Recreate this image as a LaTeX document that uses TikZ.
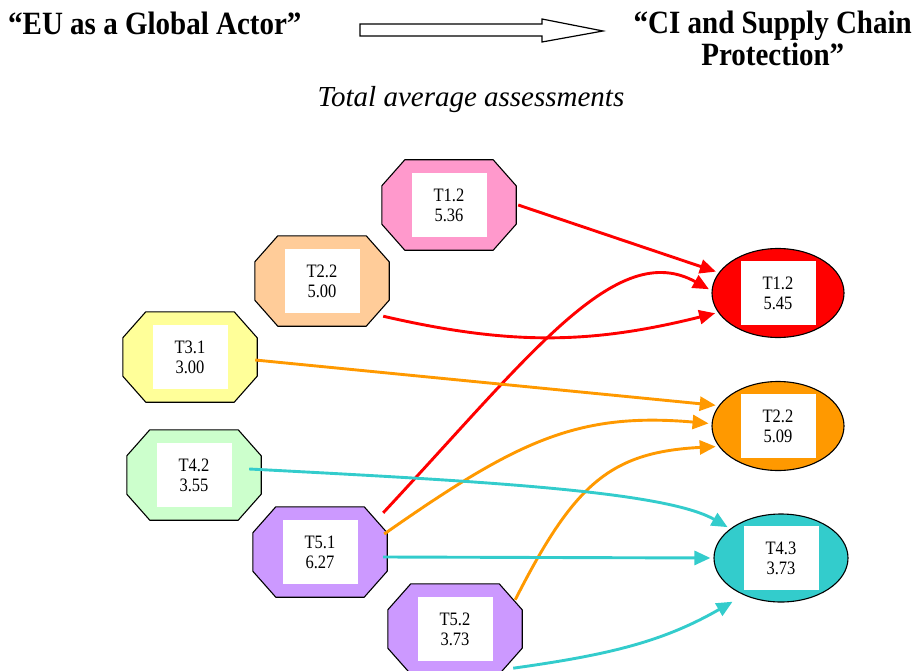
\documentclass[tikz,border=0pt]{standalone}
\usepackage{fontspec}
\setmainfont{Liberation Serif}
\usepackage{tikz}
\usetikzlibrary{shapes.geometric,arrows.meta}

\definecolor{octpink}{HTML}{FF99CC}
\definecolor{octpeach}{HTML}{FFCC99}
\definecolor{octyellow}{HTML}{FFFF99}
\definecolor{octgreen}{HTML}{CCFFCC}
\definecolor{octviolet}{HTML}{CC99FF}
\definecolor{linkred}{HTML}{FF0000}
\definecolor{linkorange}{HTML}{FF9900}
\definecolor{linkteal}{HTML}{33CCCC}

\begin{document}
\begin{tikzpicture}[x=1pt, y=-1pt,
    oct/.style={rectangle, minimum width=134pt, minimum height=90pt, inner sep=0pt},
    oval/.style={ellipse, draw, line width=1.1pt, minimum width=132pt, minimum height=89pt, inner sep=0pt},
    lbl/.style={fill=white, minimum width=75pt, minimum height=55.6pt, inner sep=0pt,
        align=center, font=\fontsize{16.5}{17.4}\selectfont, yscale=1.15, transform shape},
    head/.style={font=\bfseries\fontsize{29}{28.6}\selectfont, inner sep=0pt, yscale=1.12, transform shape},
    link/.style={line width=2.9pt, -{Triangle[length=16pt,width=14pt]}, shorten >=3pt}]
    \useasboundingbox (0,0) rectangle (917,671);

    % headings
    \node[head, anchor=base west] (from) at (8,35) {“EU as a Global Actor”};
    \node[head, anchor=base east, align=center] (to) at (912,66) {“CI and Supply Chain\\Protection”};
    \node[font=\itshape\fontsize{29}{32}\selectfont, inner sep=0pt, anchor=base] (sub) at (471,107) {Total average assessments};
    \draw[line width=1.2pt] (360,24) -- (542,24) -- (542,19) -- (603,31) -- (542,42) -- (542,36) -- (360,36) -- cycle;

    % source topics
    \node[oct] (g12) at (449,205) {};
    \node[oct] (g22) at (322,281) {};
    \node[oct] (g31) at (190,357) {};
    \node[oct] (g42) at (194,475) {};
    \node[oct] (g51) at (320,552) {};
    \node[oct] (g52) at (455,629) {};
    \foreach \n/\c in {g12/octpink, g22/octpeach, g31/octyellow, g42/octgreen, g51/octviolet, g52/octviolet}
        \filldraw[fill=\c, line width=1.1pt]
            ([xshift=23pt]\n.north west) -- ([xshift=-23pt]\n.north east)
            -- ([yshift=-26pt]\n.north east) -- ([yshift=26pt]\n.south east)
            -- ([xshift=-23pt]\n.south east) -- ([xshift=23pt]\n.south west)
            -- ([yshift=26pt]\n.south west) -- ([yshift=-26pt]\n.north west) -- cycle;
    \node[lbl] (s12) at (g12) {T1.2\\5.36};
    \node[lbl] (s22) at (g22) {T2.2\\5.00};
    \node[lbl] (s31) at (g31) {T3.1\\3.00};
    \node[lbl] (s42) at (g42) {T4.2\\3.55};
    \node[lbl] (s51) at (g51) {T5.1\\6.27};
    \node[lbl] (s52) at (g52) {T5.2\\3.73};

    % target topics
    \node[oval, fill=linkred] (c12) at (778,293) {};
    \node[lbl] (u12) at (c12) {T1.2\\5.45};
    \node[oval, fill=linkorange] (c22) at (778,426) {};
    \node[lbl] (u22) at (c22) {T2.2\\5.09};
    \node[oval, fill=linkteal, minimum width=134pt, minimum height=88pt] (c43) at (781,558) {};
    \node[lbl] (u43) at (c43) {T4.3\\3.73};

    % links
    \draw[link, linkred] ([xshift=2pt]g12.east) -- (c12.161);
    \draw[link, linkred] ([shift={(-6,-10)}]g22.south east) to[out=-13, in=194] (c12.198);
    \draw[link, linkred] ([shift={(-4,6)}]g51.north east) to[out=47, in=151, out looseness=1.4, in looseness=0.7] (c12.178);
    \draw[link, linkorange] ([shift={(-2,3)}]g31.east) -- (c22.161);
    \draw[link, linkorange] ([shift={(-3,-18)}]g51.east) to[out=35, in=175, out looseness=1.2] (c22.178);
    \draw[link, linkorange] ([shift={(-7,16)}]g52.north east) to[out=63, in=183, out looseness=1.3, in looseness=1.1] (c22.199);
    \draw[link, linkteal] ([shift={(-12,-6)}]g42.east) to[out=-3, in=150, out looseness=1.2, in looseness=0.4] (c43.150);
    \draw[link, linkteal] ([shift={(-4,5)}]g51.east) -- (c43.180);
    \draw[link, linkteal, shorten >=13pt] ([shift={(-9,-6)}]g52.south east) to[out=8, in=210] (c43.225);
\end{tikzpicture}
\end{document}
